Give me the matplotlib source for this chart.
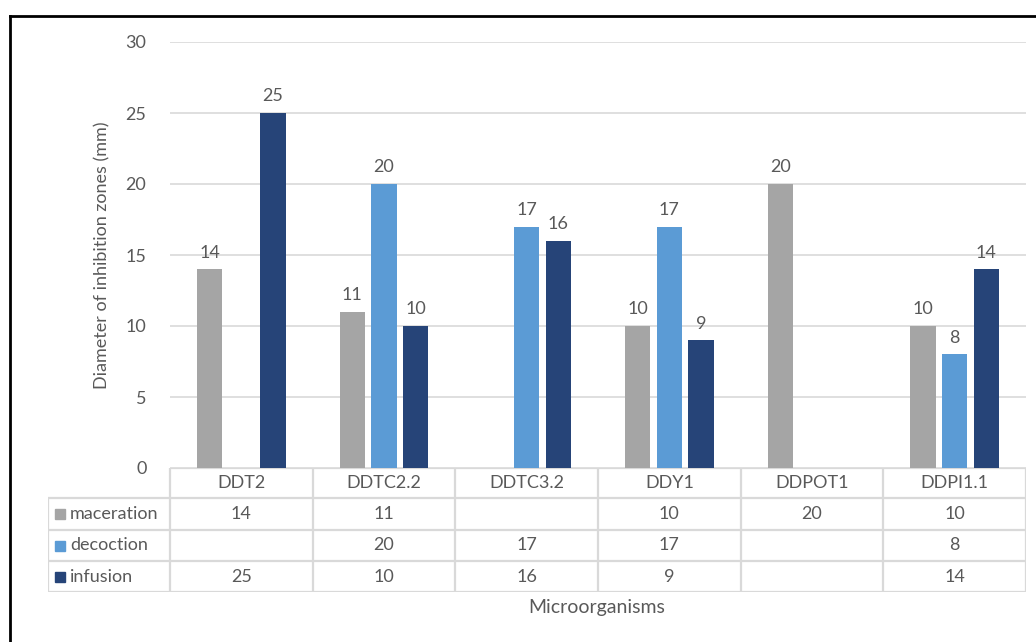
"""Inhibition zone diameters per microorganism, Excel-style column chart with data table."""

import matplotlib

matplotlib.use("Agg")
import matplotlib.pyplot as plt
import numpy as np
from matplotlib.lines import Line2D
from matplotlib.patches import Rectangle

# ====== Data ======
categories = ["DDT2", "DDTC2.2", "DDTC3.2", "DDY1", "DDPOT1", "DDPI1.1"]
series_names = ["maceration", "decoction", "infusion"]
maceration = [14, 11, None, 10, 20, 10]
decoction = [None, 20, 17, 17, None, 8]
infusion = [25, 10, 16, 9, None, 14]
y_ticks = [0, 5, 10, 15, 20, 25, 30]
# ==================

COLORS = ["#A5A5A5", "#5B9BD5", "#264478"]
TXT = "#595959"
GRID = "#D9D9D9"
W, H = 1036, 642
FS = 13

plt.rcParams["font.family"] = ["Lato", "DejaVu Sans"]

fig = plt.figure(figsize=(W / 100, H / 100), dpi=100)


def px_rect(x0, y0, x1, y1):
    """Figure-fraction rect from pixel box (top-left origin)."""
    return [x0 / W, 1 - y1 / H, (x1 - x0) / W, (y1 - y0) / H]


# ----- main column axes -----
ax = fig.add_axes(px_rect(170, 42, 1026, 468))
series = [maceration, decoction, infusion]
n = len(categories)
x = np.arange(n)
bar_w = 0.178
step = 0.222
for i, (vals, col) in enumerate(zip(series, COLORS)):
    off = (i - 1) * step
    for xi, v in zip(x, vals):
        if v is None:
            continue
        ax.bar(xi + off, v, width=bar_w, color=col, zorder=3)
        ax.text(xi + off, v + 0.6, str(v), ha="center", va="bottom",
                fontsize=FS, color=TXT)

ax.set_xlim(-0.5, n - 0.5)
ax.set_ylim(0, 30)
ax.set_yticks(y_ticks)
ax.set_xticks([])
ax.tick_params(axis="y", length=0, pad=17, labelsize=FS, labelcolor=TXT)
ax.grid(axis="y", color=GRID, linewidth=1.2, zorder=0)
for s in ax.spines.values():
    s.set_visible(False)
ax.set_ylabel("Diameter of inhibition zones (mm)", fontsize=FS, color=TXT,
              labelpad=11)

# ----- data table axes -----
lab_w = 122 / 142.67  # label column width in category units
tab = fig.add_axes(px_rect(48, 468, 1026, 592))
tab.set_xlim(-0.5 - lab_w, n - 0.5)
tab.set_ylim(124, 0)  # pixel rows, top down
tab.axis("off")
row_edges = [0, 30, 62, 93, 124]
lc = dict(color=GRID, linewidth=1.6, solid_capstyle="butt")

# horizontal lines
tab.plot([-0.5, n - 0.5], [row_edges[0]] * 2, **lc)
for r in row_edges[1:]:
    tab.plot([-0.5 - lab_w, n - 0.5], [r, r], **lc)
# vertical lines
tab.plot([-0.5 - lab_w] * 2, [row_edges[1], row_edges[-1]], **lc)
for b in np.arange(n + 1) - 0.5:
    tab.plot([b, b], [row_edges[0], row_edges[-1]], **lc)

for xi, c in zip(x, categories):
    tab.text(xi, (row_edges[0] + row_edges[1]) / 2, c, ha="center", va="center",
             fontsize=FS, color=TXT)
for r, (name, vals, col) in enumerate(zip(series_names, series, COLORS)):
    yc = (row_edges[r + 1] + row_edges[r + 2]) / 2
    x0 = -0.5 - lab_w + 7 / 142.67
    tab.add_patch(Rectangle((x0, yc - 5), 10 / 142.67, 10, color=col,
                            clip_on=False))
    tab.text(x0 + 15 / 142.67, yc, name, ha="left", va="center",
             fontsize=FS, color=TXT)
    for xi, v in zip(x, vals):
        if v is not None:
            tab.text(xi, yc, str(v), ha="center", va="center",
                     fontsize=FS, color=TXT)

fig.text(597 / W, 1 - 607 / H, "Microorganisms", ha="center", va="center",
         fontsize=FS + 1, color=TXT)

# ----- outer frame (top and left edges visible) -----
fig.add_artist(Line2D([10 / W, 1], [1 - 16 / H] * 2, color="black", linewidth=2))
fig.add_artist(Line2D([10 / W] * 2, [0, 1 - 16 / H], color="black", linewidth=2))

fig.savefig("out.png", dpi=100)
